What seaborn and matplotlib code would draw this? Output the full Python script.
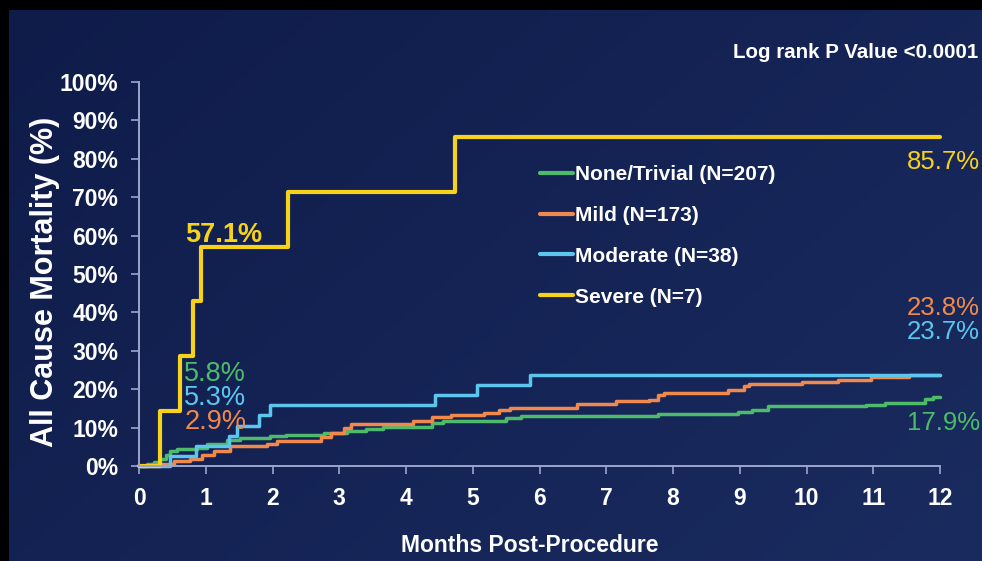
import numpy as np
import pandas as pd
import matplotlib
matplotlib.use("Agg")
import matplotlib.pyplot as plt
from matplotlib.colors import LinearSegmentedColormap
from matplotlib.lines import Line2D
import seaborn as sns

# step curves (month, cumulative mortality %)
none_months = [0, 0.12, 0.22, 0.32, 0.4, 0.47, 0.57, 0.87, 1.02, 1.32, 1.52, 1.97, 2.2, 2.77,
               3.12, 3.4, 3.65, 4.39, 4.56, 5.5, 5.72, 7.78, 8.97, 9.19, 9.42, 10.89, 11.17,
               11.78, 11.89, 12]
none_pct = [0, 0.5, 1.0, 1.9, 2.9, 3.9, 4.3, 4.8, 5.8, 6.8, 7.2, 7.7, 8.2, 8.7,
            9.2, 9.7, 10.1, 11.1, 11.6, 12.6, 13.0, 13.5, 14.0, 14.5, 15.5, 15.9, 16.4,
            17.4, 17.9, 17.9]

mild_months = [0, 0.32, 0.52, 0.77, 0.95, 1.12, 1.37, 1.92, 2.07, 2.72, 2.87, 3.07, 3.17,
               4.11, 4.39, 4.67, 5.17, 5.39, 5.56, 6.56, 7.14, 7.64, 7.78, 7.86, 8.83, 9.06,
               9.14, 9.94, 10.47, 10.97, 11.53, 12]
mild_pct = [0, 0.6, 1.2, 1.7, 2.9, 4.0, 5.2, 5.8, 6.4, 7.5, 8.7, 9.8, 11.0,
            11.6, 12.7, 13.3, 13.9, 14.5, 15.0, 16.2, 16.8, 17.3, 18.5, 19.1, 19.7, 20.8,
            21.4, 22.0, 22.5, 23.1, 23.8, 23.8]

moderate_months = [0, 0.46, 0.85, 1.35, 1.47, 1.8, 1.97, 4.44, 5.06, 5.86, 12]
moderate_pct = [0, 2.6, 5.3, 7.9, 10.5, 13.2, 15.8, 18.4, 21.1, 23.7, 23.7]

severe_months = [0, 0.31, 0.61, 0.81, 0.93, 2.23, 4.73, 12]
severe_pct = [0, 14.3, 28.6, 42.9, 57.1, 71.4, 85.7, 85.7]

groups = ["None/Trivial (N=207)", "Mild (N=173)", "Moderate (N=38)", "Severe (N=7)"]
colors = ["#4dbb6a", "#f2894c", "#5cc6ee", "#f7d21a"]
x_ticks = list(range(0, 13))
y_ticks = list(range(0, 101, 10))

# (x in months, y in %, text, color, weight, size) for the value call-outs
callouts = [
    (0.69, 60.2, "57.1%", "#f7d21a", "bold", 19.5),
    (0.68, 24.0, "5.8%", "#4dbb6a", "normal", 19.5),
    (0.68, 17.8, "5.3%", "#5cc6ee", "normal", 19.5),
    (0.68, 11.5, "2.9%", "#f2894c", "normal", 19.5),
    (11.50, 79.2, "85.7%", "#f7d21a", "normal", 18.5),
    (11.50, 41.1, "23.8%", "#f2894c", "normal", 18.5),
    (11.50, 34.9, "23.7%", "#5cc6ee", "normal", 18.5),
    (11.50, 11.2, "17.9%", "#4dbb6a", "normal", 18.5),
]

frames = []
for g, m, p in zip(groups,
                   [none_months, mild_months, moderate_months, severe_months],
                   [none_pct, mild_pct, moderate_pct, severe_pct]):
    frames.append(pd.DataFrame({"month": m, "pct": p, "group": g}))
df = pd.concat(frames, ignore_index=True)

sns.set_style("ticks")
plt.rcParams["font.family"] = ["Liberation Sans", "DejaVu Sans"]

W, H = 982, 561
fig = plt.figure(figsize=(W / 100, H / 100), dpi=100, facecolor="black")

# navy slide background with a soft gradient, black strip top/left
bg = fig.add_axes([9 / W, 0, 1 - 9 / W, (H - 10) / H], zorder=0)
yy, xx = np.mgrid[0:1:200j, 0:1:200j]
grad = 0.6 * xx + 0.4 * yy
cmap = LinearSegmentedColormap.from_list("navy", ["#0f1c4a", "#1a2b5f"])
bg.imshow(grad, cmap=cmap, aspect="auto", extent=[0, 1, 0, 1], origin="upper")
bg.set_axis_off()

ax = fig.add_axes([139 / W, (H - 466) / H, (940 - 139) / W, (466 - 82) / H], zorder=1)
ax.set_facecolor("none")

lw = {groups[0]: 2.5, groups[1]: 2.5, groups[2]: 2.5, groups[3]: 3.0}
for g, c in zip(groups, colors):
    sub = df[df["group"] == g]
    sns.lineplot(data=sub, x="month", y="pct", color=c, drawstyle="steps-post",
                 estimator=None, linewidth=lw[g], ax=ax, clip_on=False)

ax.set_xlim(0, 12)
ax.set_ylim(0, 100)
ax.set_xticks(x_ticks)
ax.set_xticklabels([str(t) for t in x_ticks])
ax.set_yticks(y_ticks)
ax.set_yticklabels([f"{t}%" for t in y_ticks])

spine_c = "#9aa6cc"
for s in ["top", "right"]:
    ax.spines[s].set_visible(False)
for s in ["left", "bottom"]:
    ax.spines[s].set_color(spine_c)
    ax.spines[s].set_linewidth(1.4)
ax.tick_params(axis="both", colors=spine_c, length=6, width=1.2, direction="out")
ax.tick_params(axis="y", pad=9, labelcolor="white", labelsize=16.5)
ax.tick_params(axis="x", pad=9, labelcolor="white", labelsize=16.5)
for lab in ax.get_xticklabels() + ax.get_yticklabels():
    lab.set_fontweight("bold")

ax.set_xlabel("")
ax.set_ylabel("")
fig.text(530 / W, 1 - 546 / H, "Months Post-Procedure", color="white", fontsize=16.5,
         fontweight="bold", ha="center", va="center")
fig.text(45 / W, 1 - 282 / H, "All Cause Mortality (%)", color="white", fontsize=22,
         fontweight="bold", ha="center", va="center", rotation=90)
fig.text(978 / W, 1 - 52 / H, "Log rank P Value <0.0001", color="white", fontsize=14.8,
         fontweight="bold", ha="right", va="center")

for x, y, t, c, w, s in callouts:
    ax.text(x, y, t, color=c, fontsize=s, fontweight=w, ha="left", va="center",
            clip_on=False)

handles = [Line2D([0], [0], color=c, lw=3) for c in colors]
leg = ax.legend(handles, groups, loc="upper left", bbox_to_anchor=(540 / W, 1 - 165 / H),
                bbox_transform=fig.transFigure, frameon=False, borderpad=0,
                borderaxespad=0, handlelength=1.6, handletextpad=0.1, labelspacing=1.05,
                prop={"size": 15, "weight": "bold"})
for t in leg.get_texts():
    t.set_color("white")

fig.savefig("out.png", dpi=100, facecolor="black")
